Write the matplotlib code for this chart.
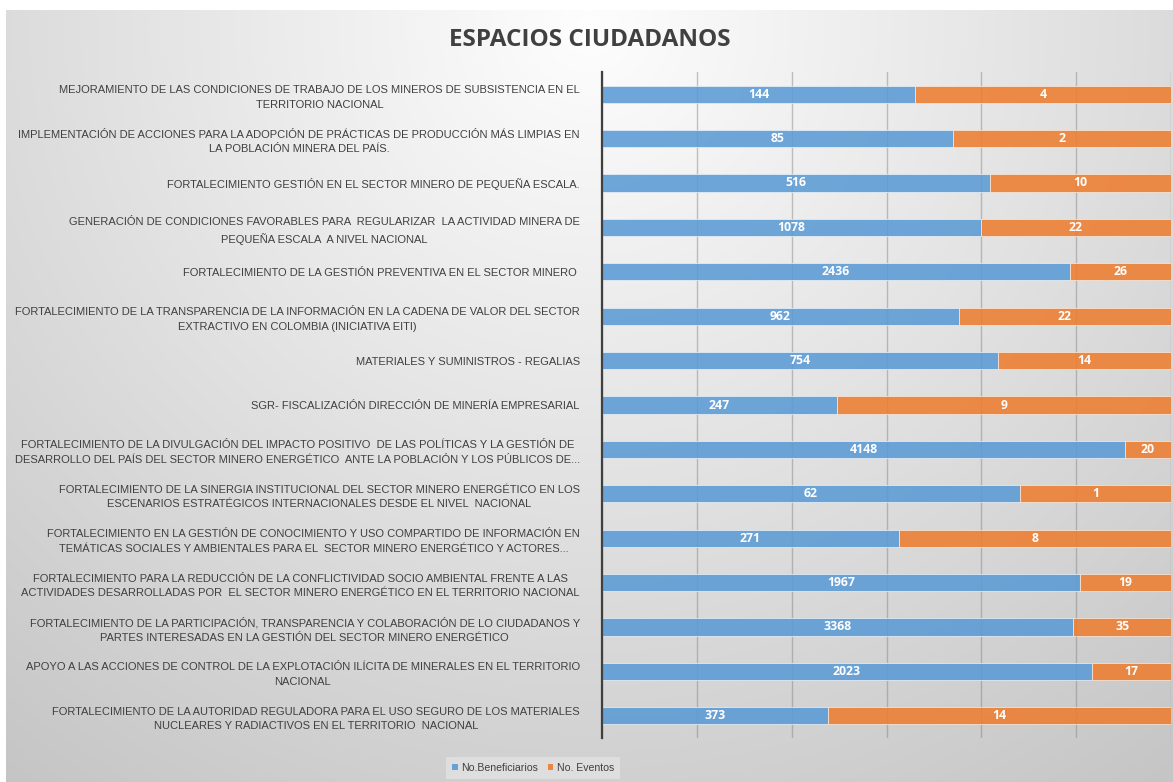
import numpy as np
import matplotlib
matplotlib.use("Agg")
import matplotlib.pyplot as plt
from matplotlib.patches import Patch
from matplotlib import font_manager

categories = [
    "MEJORAMIENTO DE LAS CONDICIONES DE TRABAJO DE LOS MINEROS DE SUBSISTENCIA EN EL\nTERRITORIO NACIONAL",
    "IMPLEMENTACIÓN DE ACCIONES PARA LA ADOPCIÓN DE PRÁCTICAS DE PRODUCCIÓN MÁS LIMPIAS EN\nLA POBLACIÓN MINERA DEL PAÍS.",
    "FORTALECIMIENTO GESTIÓN EN EL SECTOR MINERO DE PEQUEÑA ESCALA.",
    "GENERACIÓN DE CONDICIONES FAVORABLES PARA  REGULARIZAR  LA ACTIVIDAD MINERA DE\nPEQUEÑA ESCALA  A NIVEL NACIONAL",
    "FORTALECIMIENTO DE LA GESTIÓN PREVENTIVA EN EL SECTOR MINERO ",
    "FORTALECIMIENTO DE LA TRANSPARENCIA DE LA INFORMACIÓN EN LA CADENA DE VALOR DEL SECTOR\nEXTRACTIVO EN COLOMBIA (INICIATIVA EITI)",
    "MATERIALES Y SUMINISTROS - REGALIAS",
    "SGR- FISCALIZACIÓN DIRECCIÓN DE MINERÍA EMPRESARIAL",
    "FORTALECIMIENTO DE LA DIVULGACIÓN DEL IMPACTO POSITIVO  DE LAS POLÍTICAS Y LA GESTIÓN DE\nDESARROLLO DEL PAÍS DEL SECTOR MINERO ENERGÉTICO  ANTE LA POBLACIÓN Y LOS PÚBLICOS DE...",
    "FORTALECIMIENTO DE LA SINERGIA INSTITUCIONAL DEL SECTOR MINERO ENERGÉTICO EN LOS\nESCENARIOS ESTRATÉGICOS INTERNACIONALES DESDE EL NIVEL  NACIONAL",
    "FORTALECIMIENTO EN LA GESTIÓN DE CONOCIMIENTO Y USO COMPARTIDO DE INFORMACIÓN EN\nTEMÁTICAS SOCIALES Y AMBIENTALES PARA EL  SECTOR MINERO ENERGÉTICO Y ACTORES...",
    "FORTALECIMIENTO PARA LA REDUCCIÓN DE LA CONFLICTIVIDAD SOCIO AMBIENTAL FRENTE A LAS\nACTIVIDADES DESARROLLADAS POR  EL SECTOR MINERO ENERGÉTICO EN EL TERRITORIO NACIONAL",
    "FORTALECIMIENTO DE LA PARTICIPACIÓN, TRANSPARENCIA Y COLABORACIÓN DE LO CIUDADANOS Y\nPARTES INTERESADAS EN LA GESTIÓN DEL SECTOR MINERO ENERGÉTICO",
    "APOYO A LAS ACCIONES DE CONTROL DE LA EXPLOTACIÓN ILÍCITA DE MINERALES EN EL TERRITORIO\nNACIONAL",
    "FORTALECIMIENTO DE LA AUTORIDAD REGULADORA PARA EL USO SEGURO DE LOS MATERIALES\nNUCLEARES Y RADIACTIVOS EN EL TERRITORIO  NACIONAL",
]

# labels shown on the bars
beneficiarios = [144, 85, 516, 1078, 2436, 962, 754, 247, 4148, 62, 271, 1967, 3368, 2023, 373]
eventos = [4, 2, 10, 22, 26, 22, 14, 9, 20, 1, 8, 19, 35, 17, 14]

# bar shares (percent of full width) as drawn in the reference
share_beneficiarios = [55.0, 61.7, 68.2, 66.6, 82.2, 62.7, 69.6, 41.3, 91.9, 73.5, 52.2, 84.0, 82.8, 86.1, 39.7]
share_eventos = [100 - s for s in share_beneficiarios]

series_names = ["No.Beneficiarios", "No. Eventos"]
title = "ESPACIOS CIUDADANOS"

avail = {f.name for f in font_manager.fontManager.ttflist}
label_font = "Liberation Sans Narrow" if "Liberation Sans Narrow" in avail else "Liberation Sans"

W, H = 1173, 782
fig = plt.figure(figsize=(W / 100, H / 100), dpi=100)
fig.patch.set_facecolor("white")

# background gradient
bg = fig.add_axes([6 / W, 0, 1 - 6 / W, (H - 10) / H])
bg.set_axis_off()
ny, nx = 200, 300
yy, xx = np.mgrid[0:1:ny * 1j, 0:1:nx * 1j]
d = np.sqrt(((xx - 0.5) / 0.75) ** 2 + ((yy - 0.02) / 1.1) ** 2)
v = 0.995 - 0.2 * np.clip(d, 0, 1.2)
bg.imshow(np.dstack([v, v, v]), aspect="auto", extent=[0, 1, 1, 0], interpolation="bilinear")
bg.set_xlim(0, 1); bg.set_ylim(1, 0)

ax = fig.add_axes([602 / W, 1 - 738 / H, (1171 - 602) / W, (738 - 72) / H])
ax.set_facecolor("none")
y = np.arange(len(categories))
blue = "#5B9BD5"
orange = "#ED7D31"
bh = 0.39
ax.barh(y, share_beneficiarios, height=bh, color=blue, alpha=0.88, edgecolor="#e8f0f8", linewidth=0.6, zorder=2, label=series_names[0])
ax.barh(y, share_eventos, left=share_beneficiarios, height=bh, color=orange, alpha=0.88, edgecolor="#f8e8dc", linewidth=0.6, zorder=2, label=series_names[1])

for i in range(len(categories)):
    ax.text(share_beneficiarios[i] / 2, y[i], str(beneficiarios[i]), ha="center", va="center",
            color="white", fontsize=8.8, fontweight="bold", family="Open Sans", zorder=4)
    ax.text(share_beneficiarios[i] + share_eventos[i] / 2, y[i], str(eventos[i]), ha="center", va="center",
            color="white", fontsize=8.8, fontweight="bold", family="Open Sans", zorder=4)

ax.set_xlim(0, 100)
ax.set_ylim(len(categories) - 0.5, -0.5)
ax.set_xticks(np.linspace(0, 100, 7))
ax.xaxis.grid(True, color="#7f7f7f", alpha=0.45, linewidth=1.0, zorder=1)
ax.set_axisbelow(True)
ax.tick_params(axis="x", length=0, labelbottom=False)
ax.set_yticks(y)
ax.set_yticklabels(categories, fontsize=8.0, color="#404040", family=label_font,
                   multialignment="center", linespacing=1.55)
ax.tick_params(axis="y", length=0, pad=16)
for s in ["top", "right", "bottom"]:
    ax.spines[s].set_visible(False)
ax.spines["left"].set_color("#404040")
ax.spines["left"].set_linewidth(1.6)

fig.text(590 / W, 1 - 40 / H, title, ha="center", va="center", fontsize=17.5, fontweight="bold",
         color="#404040", family="Open Sans")

handles = [Patch(facecolor=blue, alpha=0.9), Patch(facecolor=orange, alpha=0.9)]
leg = fig.legend(handles, series_names, loc="center", bbox_to_anchor=(533 / W, 1 - 768 / H), ncol=2,
                 frameon=True, handlelength=0.55, handleheight=0.55, handletextpad=0.3,
                 columnspacing=0.9, borderpad=0.55, fancybox=False,
                 prop={"family": label_font, "size": 7.6})
leg.get_frame().set_facecolor("#e2e2e2")
leg.get_frame().set_edgecolor("none")
for t in leg.get_texts():
    t.set_color("#404040")

fig.savefig("out.png", dpi=100, facecolor="white")
